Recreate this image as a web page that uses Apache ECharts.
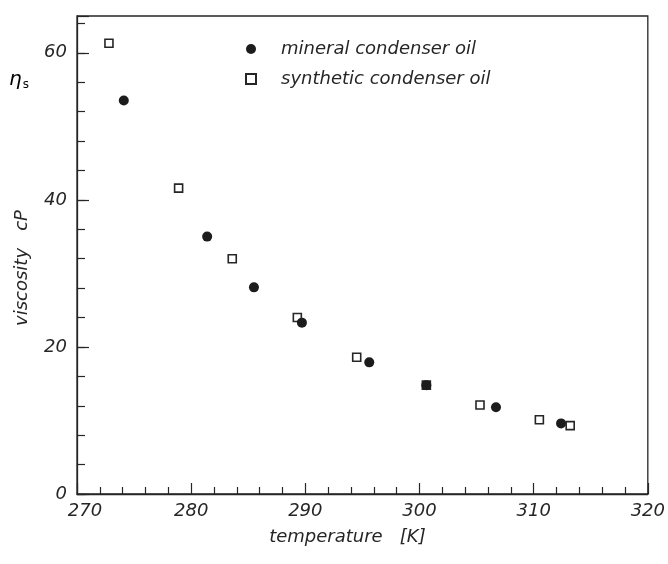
<!DOCTYPE html>
<html>
<head>
<meta charset="utf-8">
<script src="https://cdn.jsdelivr.net/npm/echarts@6/dist/echarts.min.js"></script>
<style>
  html, body { margin: 0; padding: 0; background: #ffffff; }
  #chart { width: 668px; height: 564px; }
</style>
</head>
<body>
<div id="chart"></div>
<script>
// Viscosity of condenser oils versus temperature
const seriesNames = ['mineral condenser oil', 'synthetic condenser oil'];

const temperatureMineral = [274.1, 281.4, 285.5, 289.7, 295.6, 300.6, 306.7, 312.4];
const viscosityMineral   = [53.5, 35.0, 28.1, 23.3, 17.9, 14.8, 11.8, 9.6];

const temperatureSynthetic = [272.8, 278.9, 283.6, 289.3, 294.5, 300.6, 305.3, 310.5, 313.2];
const viscositySynthetic   = [61.3, 41.6, 32.0, 24.0, 18.6, 14.8, 12.1, 10.1, 9.3];

const xTicks = [270, 280, 290, 300, 310, 320];
const yTicks = [0, 20, 40, 60];

const ink = '#262626';
const font = 'DejaVu Sans';

const pairs = (xs, ys) => xs.map((x, i) => [x, ys[i]]);

const chart = echarts.init(document.getElementById('chart'), null, { renderer: 'canvas' });

chart.setOption({
  animation: false,
  backgroundColor: '#ffffff',
  grid: {
    left: 77, right: 20, top: 16, bottom: 70,
    show: true, borderColor: ink, borderWidth: 1.3, backgroundColor: 'transparent'
  },
  legend: {
    data: seriesNames,
    orient: 'vertical',
    left: 240, top: 35,
    itemWidth: 10, itemHeight: 10, itemGap: 12,
    selectedMode: false,
    textStyle: {
      fontFamily: font, fontStyle: 'italic', fontSize: 18, color: ink,
      padding: [0, 0, 0, 20]
    }
  },
  xAxis: {
    type: 'value',
    min: xTicks[0], max: xTicks[xTicks.length - 1], interval: 10,
    name: 'temperature   [K]',
    nameLocation: 'middle', nameGap: 34,
    nameTextStyle: {
      fontFamily: font, fontStyle: 'italic', fontSize: 18, color: ink,
      padding: [0, 30, 0, 0]
    },
    axisLine: { show: true, lineStyle: { color: ink, width: 1.3 } },
    axisTick: { show: true, inside: true, length: 11, lineStyle: { color: ink, width: 1.2 } },
    minorTick: { show: true, splitNumber: 5, length: 7, lineStyle: { color: ink, width: 1.2 } },
    splitLine: { show: false },
    axisLabel: {
      margin: 8,
      fontFamily: font, fontStyle: 'italic', fontSize: 18, color: ink,
      formatter: v => (v === xTicks[0] ? '{first|' + v + '}' : String(v)),
      rich: { first: { fontFamily: font, fontStyle: 'italic', fontSize: 18, color: ink, padding: [0, 0, 0, 16] } }
    }
  },
  yAxis: [
    {
      type: 'value',
      position: 'left',
      min: 0, max: 65, interval: 4,
      name: 'viscosity   cP',
      nameLocation: 'middle', nameRotate: 90, nameGap: 46,
      nameTextStyle: {
        fontFamily: font, fontStyle: 'italic', fontSize: 18, color: ink,
        padding: [0, 26, 0, 0]
      },
      axisLine: { show: true, lineStyle: { color: ink, width: 1.3 } },
      axisTick: { show: true, inside: true, length: 8, lineStyle: { color: ink, width: 1.2 } },
      splitLine: { show: false },
      axisLabel: {
        margin: 10, showMaxLabel: false,
        fontFamily: font, fontStyle: 'italic', fontSize: 18, color: ink,
        formatter: v => (yTicks.indexOf(v) >= 0 ? String(v) : '')
      }
    },
    {
      // longer ticks at the labelled values
      type: 'value',
      position: 'left',
      min: 0, max: 65, interval: 20,
      axisLine: { show: false },
      axisTick: { show: true, inside: true, length: 12, lineStyle: { color: ink, width: 1.2 } },
      axisLabel: { show: false },
      splitLine: { show: false }
    }
  ],
  graphic: [
    {
      type: 'text', left: 9, top: 70,
      style: {
        text: '{e|η}{s|s}',
        rich: {
          e: { fontFamily: font, fontStyle: 'italic', fontSize: 20, color: ink },
          s: { fontFamily: font, fontSize: 12, color: ink, padding: [10, 0, 0, 1] }
        }
      }
    }
  ],
  series: [
    {
      name: seriesNames[1],
      type: 'scatter',
      symbol: 'rect',
      symbolSize: 8,
      itemStyle: { color: '#ffffff', borderColor: ink, borderWidth: 1.6, opacity: 1 },
      data: pairs(temperatureSynthetic, viscositySynthetic),
      z: 2
    },
    {
      name: seriesNames[0],
      type: 'scatter',
      symbol: 'circle',
      symbolSize: 10,
      itemStyle: { color: '#1c1c1c', opacity: 1 },
      data: pairs(temperatureMineral, viscosityMineral),
      z: 3
    }
  ]
});
</script>
</body>
</html>
